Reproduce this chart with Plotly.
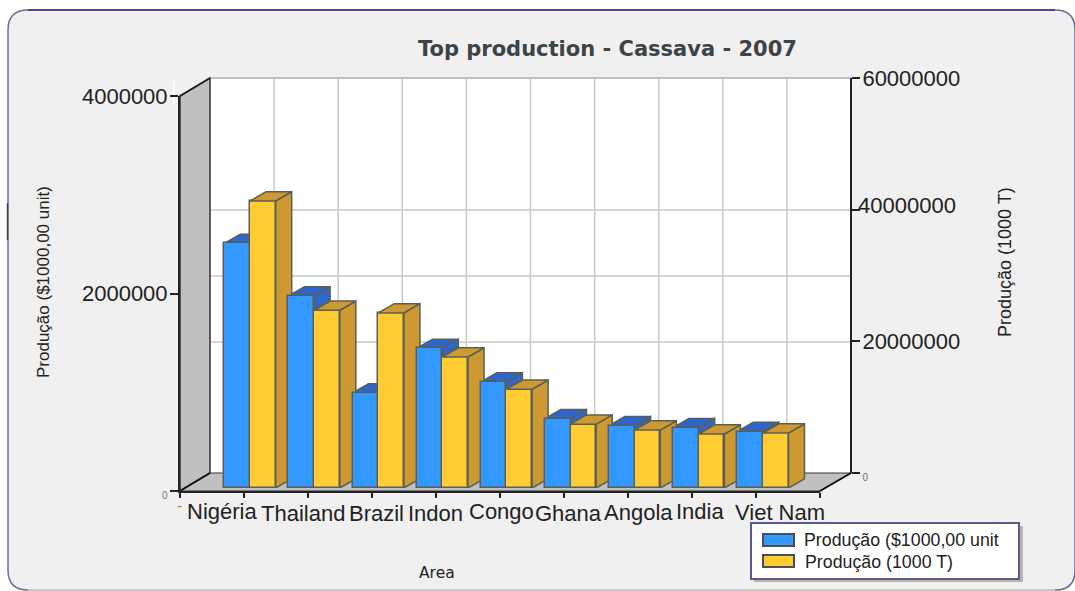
import plotly.graph_objects as go

categories = ["Nigéria", "Thailand", "Brazil", "Indon", "Congo", "Ghana", "Angola", "India", "Viet Nam"]
value_usd = [2470000, 1940000, 960000, 1410000, 1070000, 700000, 630000, 610000, 570000]
value_tonnes = [43600000, 27000000, 26600000, 19900000, 15000000, 9700000, 8800000, 8200000, 8350000]
series_usd = "Produção ($1000,00 unit"
series_tonnes = "Produção (1000 T)"
title_text = "Top production - Cassava - 2007"
left_title = "Produção ($1000,00 unit)"
right_title = "Produção (1000 T)"
x_title = "Area"

W, H = 1075, 591
def X(p): return p / W
def Y(p): return 1 - p / H

BLUE, BLUE_D = "#3399ff", "#2f66cc"
YEL, YEL_D = "#ffcc33", "#cc9933"
EDGE = "#5a5f55"
WALL = "#c0c0c0"
GRID = "#c9c9c9"
TXT = "#222222"
FONT = "Liberation Sans"

FRONT_L, BACK_L, BACK_R, FRONT_R = 180, 210, 851, 820
BACK_T, BACK_B, FRONT_T, FRONT_B = 78, 473, 96, 491
BASE = 488
PITCH = 64.1
CENTER0 = 250
BAR_W = 25.7 / PITCH
DX = 16 / PITCH
DY_PX = 9.2
PX_USD = 198 / 2000000
PX_T = 131.67 / 20000000

xs = list(range(len(categories)))
def side_top(x0, x1, v, dy):
    side_x, side_y, top_x, top_y = [x1, x1, x1 + DX, x1 + DX, x1], [0, v, v + dy, dy, 0], [x0, x1, x1 + DX, x0 + DX, x0], [v, v, v + dy, v + dy, v]
    return side_x, side_y, top_x, top_y

fig = go.Figure()
# axis holders for the printed scales
fig.add_trace(go.Scatter(x=[], y=[], xaxis="x2", yaxis="y", showlegend=False, hoverinfo="skip"))
fig.add_trace(go.Scatter(x=[], y=[], xaxis="x2", yaxis="y2", showlegend=False, hoverinfo="skip"))

def faces(i, x0, v, dy, col, axis):
    sx, sy, tx, ty = side_top(x0, x0 + BAR_W, v, dy)
    for fx, fy in ((sx, sy), (tx, ty)):
        fig.add_trace(go.Scatter(x=fx, y=fy, xaxis="x", yaxis=axis, mode="lines", fill="toself", fillcolor=col,
                                 line=dict(color=EDGE, width=1.5), showlegend=False, hoverinfo="skip"))

for i, v in zip(xs, value_usd):
    faces(i, i - BAR_W, v, DY_PX / PX_USD, BLUE_D, "y3")
fig.add_trace(go.Bar(x=xs, y=value_tonnes, name=series_tonnes, xaxis="x", yaxis="y4", width=BAR_W, offset=0,
                     marker=dict(color=YEL, line=dict(color=EDGE, width=1.5)), showlegend=False,
                     customdata=categories, hovertemplate="%{customdata}: %{y}<extra></extra>"))
for i, v in zip(xs, value_tonnes):
    faces(i, i, v, DY_PX / PX_T, YEL_D, "y4")
fig.add_trace(go.Bar(x=xs, y=value_usd, name=series_usd, xaxis="x", yaxis="y5", width=BAR_W, offset=-BAR_W,
                     marker=dict(color=BLUE, line=dict(color=EDGE, width=1.5)), showlegend=False,
                     customdata=categories, hovertemplate="%{customdata}: %{y}<extra></extra>"))

def poly(pts, **kw):
    path = "M" + " L".join(f"{X(a):.5f},{Y(b):.5f}" for a, b in pts) + " Z"
    return dict(type="path", xref="paper", yref="paper", path=path, **kw)
def seg(a, b, c, d, color, width=1.5, layer="below"):
    return dict(type="line", xref="paper", yref="paper", x0=X(a), y0=Y(b), x1=X(c), y1=Y(d),
                line=dict(color=color, width=width), layer=layer)
def box(a, b, c, d, fill, color=None, width=0, layer="above"):
    return dict(type="rect", xref="paper", yref="paper", x0=X(a), y0=Y(b), x1=X(c), y1=Y(d), fillcolor=fill,
                line=dict(color=color or fill, width=width), layer=layer)

PL, PT, PR, PB, R = 8, 10, 1075, 590, 20
panel = (f"M{X(PL+R):.5f},{Y(PT):.5f} L{X(PR-R):.5f},{Y(PT):.5f} Q{X(PR):.5f},{Y(PT):.5f} {X(PR):.5f},{Y(PT+R):.5f} "
         f"L{X(PR):.5f},{Y(PB-R):.5f} Q{X(PR):.5f},{Y(PB):.5f} {X(PR-R):.5f},{Y(PB):.5f} "
         f"L{X(PL+R):.5f},{Y(PB):.5f} Q{X(PL):.5f},{Y(PB):.5f} {X(PL):.5f},{Y(PB-R):.5f} "
         f"L{X(PL):.5f},{Y(PT+R):.5f} Q{X(PL):.5f},{Y(PT):.5f} {X(PL+R):.5f},{Y(PT):.5f} Z")
shapes = [dict(type="path", xref="paper", yref="paper", path=panel, fillcolor="#f0f0f0",
               line=dict(color="#6a7096", width=1.5), layer="below"),
          seg(PL + R, PT, PR - R, PT, "#2f3474", 1.5),
          seg(PL + R, PB, PR - R, PB, "#c8c8c8", 2),
          seg(7.5, 203, 7.5, 240, "#444444", 1.5),
          seg(174, 81, 174, 105, "#ffffff", 2),
          box(BACK_L, BACK_T, BACK_R, BACK_B, "#ffffff", layer="below")]
for k in range(1, 10):
    gx = BACK_L + 64.1 * k
    shapes.append(seg(gx, BACK_T, gx, BACK_B, GRID, 1.5))
for gy in (210, 276, 342):
    shapes.append(seg(BACK_L, gy, BACK_R, gy, GRID, 1.5))
shapes += [
    seg(BACK_L, BACK_T, BACK_R, BACK_T, WALL, 2),
    poly([(FRONT_L, FRONT_T), (BACK_L, BACK_T), (BACK_L, BACK_B), (FRONT_L, FRONT_B)], fillcolor=WALL,
         line=dict(color="#333333", width=1.5), layer="below"),
    poly([(FRONT_L, FRONT_B), (BACK_L, BACK_B), (BACK_R, BACK_B), (FRONT_R, FRONT_B)], fillcolor=WALL,
         line=dict(color="#333333", width=1), layer="below"),
    seg(FRONT_L, FRONT_B, BACK_L, BACK_B, "#111111", 2),
    seg(FRONT_R, FRONT_B, BACK_R, BACK_B, "#111111", 2),
    seg(FRONT_L, FRONT_T, BACK_L, BACK_T, "#222222", 1.5),
    # legend
    box(754, 526, 1023, 582, "#b5b5b5"),
    box(751, 523, 1019, 579, "#ffffff", "#5a5a8c", 2),
    box(763, 534, 794, 546, BLUE, "#4a4f55", 2),
    box(763, 555, 794, 567, YEL, "#4a4f55", 2),
]

annotations = []
def note(text, x, y, size, anchor="center", angle=0, color=TXT, family=FONT, weight=None):
    t = f"<b>{text}</b>" if weight else text
    annotations.append(dict(text=t, xref="paper", yref="paper", x=X(x), y=Y(y), xanchor=anchor, yanchor="middle",
                            showarrow=False, textangle=angle, font=dict(size=size, color=color, family=family)))

label_x = [222, 303, 376, 435, 501, 568, 638, 700, 780]
label_y = [511, 513, 513, 513, 511, 513, 512, 511, 512]
for name, lx, ly in zip(categories, label_x, label_y):
    note(name, lx, ly, 22)
note(title_text, 607, 49, 21, color="#3d4448", family="DejaVu Sans", weight=True)
note(left_title, 43, 282, 17, angle=-90)
note(right_title, 1005, 262, 18, angle=-90)
note(x_title, 437, 573, 15.5, family="DejaVu Sans")
note(series_usd, 802, 540, 17.8, anchor="left")
note(series_tonnes, 803, 562, 17.8, anchor="left")
note("40000000", 856, 205, 22, anchor="left")
note("-", 179, 505, 16, color="#c8752a")

small0 = "<span style='font-size:10px;color:#8a6a60'>0</span>"
axis_line = dict(showline=True, linecolor="#222222", linewidth=2, ticks="outside", tickcolor="#222222",
                 ticklen=8, tickwidth=1.5, showgrid=False, zeroline=False, ticklabelstandoff=-2,
                 tickfont=dict(size=22, color=TXT, family=FONT), tickmode="array")
fig.update_layout(
    width=W, height=H, autosize=False, margin=dict(l=0, r=0, t=0, b=0, pad=0, autoexpand=False), showlegend=False,
    paper_bgcolor="#ffffff", plot_bgcolor="rgba(0,0,0,0)", barmode="overlay", bargap=0,
    shapes=shapes, annotations=annotations,
    xaxis=dict(domain=[X(FRONT_L), X(852)], range=[(FRONT_L - CENTER0) / PITCH, (852 - CENTER0) / PITCH],
               visible=False, anchor="y3"),
    xaxis2=dict(domain=[X(FRONT_L), X(FRONT_R)], range=[0, 10], tickmode="array", tickvals=list(range(11)),
                ticktext=[""] * 11, ticks="outside", ticklen=5, tickcolor="#222222", tickwidth=1.5, showline=True,
                linecolor="#222222", linewidth=2, showgrid=False, zeroline=False, anchor="y"),
    yaxis=dict(domain=[Y(FRONT_B), Y(FRONT_T)], range=[0, 4000000], anchor="x2",
               tickvals=[0, 2000000, 4000000], ticktext=[small0, "2000000", "4000000"], **axis_line),
    yaxis2=dict(domain=[Y(BACK_B), Y(BACK_T)], range=[0, 60000000], anchor="free", position=X(BACK_R), side="right",
                tickvals=[0, 20000000, 40000000, 60000000], ticktext=[small0, "20000000", "", "60000000"], **axis_line),
    yaxis3=dict(domain=[Y(BASE), Y(BACK_T)], range=[0, (BASE - BACK_T) / PX_USD], visible=False, anchor="x"),
    yaxis4=dict(range=[0, (BASE - BACK_T) / PX_T], visible=False, anchor="x", overlaying="y3"),
    yaxis5=dict(range=[0, (BASE - BACK_T) / PX_USD], visible=False, anchor="x", overlaying="y3"),
)
fig.write_html("out.html", config=dict(displayModeBar=False),
               post_script="document.body.style.margin='0';document.body.style.overflow='hidden';")
